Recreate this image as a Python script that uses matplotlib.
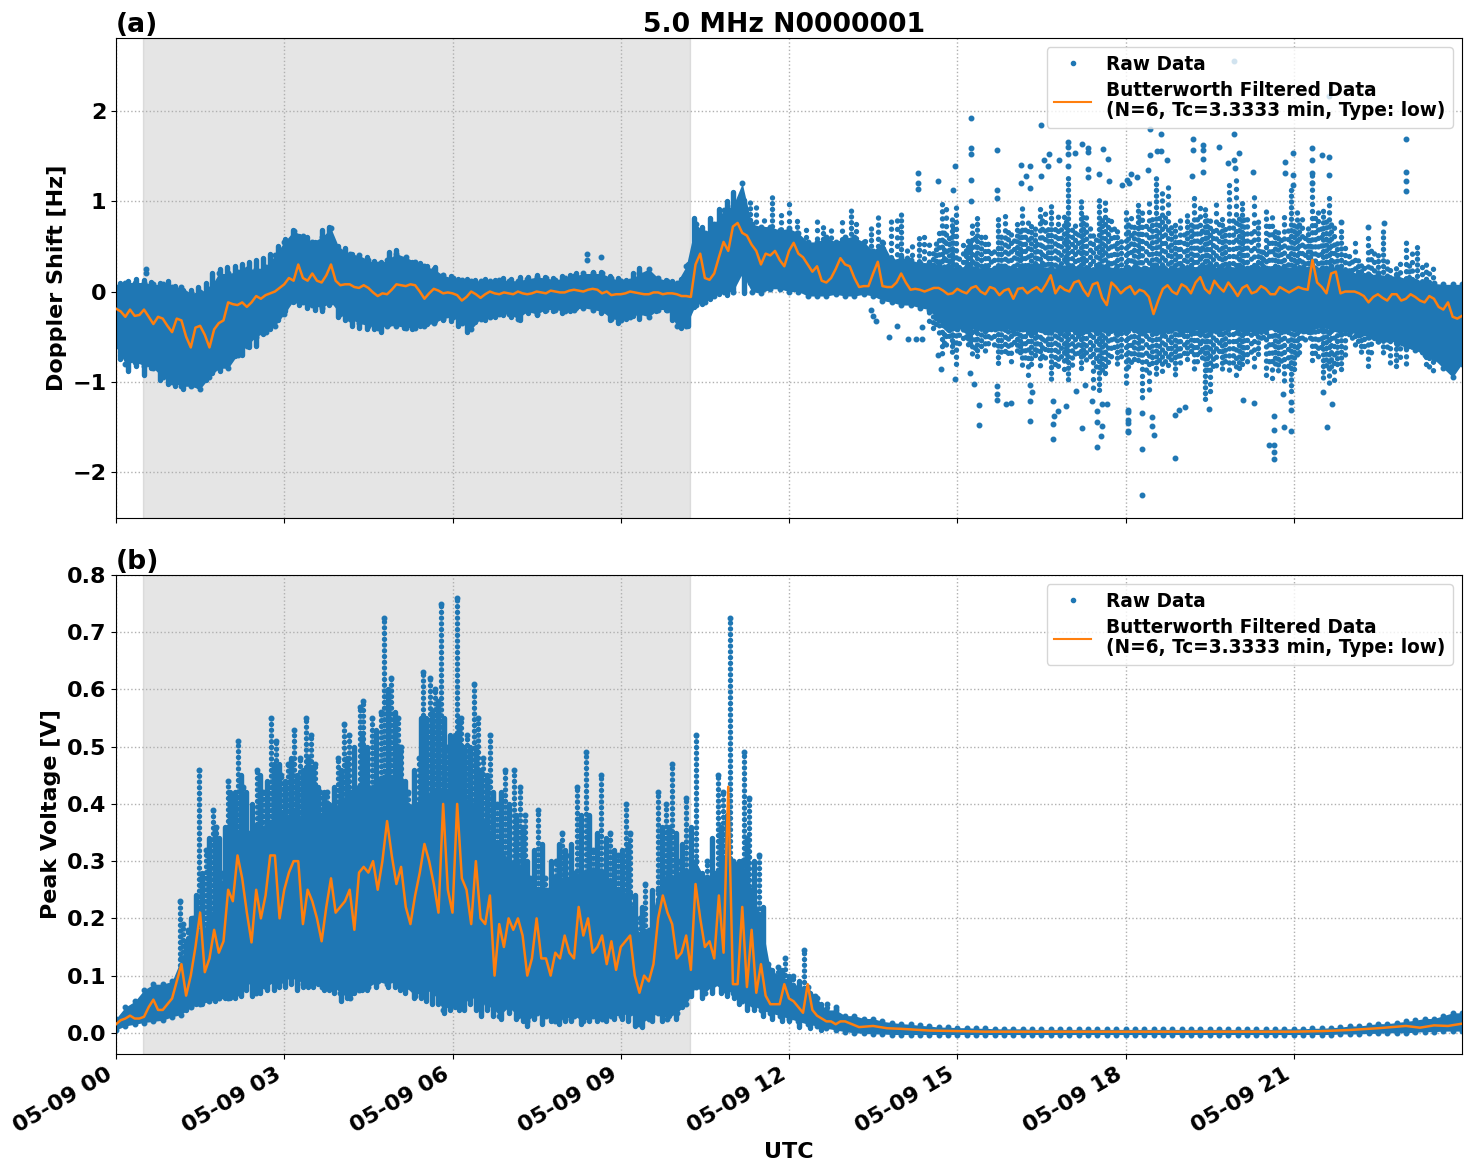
import datetime as dt
import numpy as np
import matplotlib
matplotlib.use("Agg")
import matplotlib.pyplot as plt
import matplotlib.dates as mdates

# ---- Doppler shift: envelope of dense raw data on a 10-minute grid
top_hi = [.05,.10,.10,.10,.08,.08,
          .05,.05,-.02,.0,.03,.2,
          .2,.22,.25,.25,.27,.4,
          .55,.67,.62,.55,.6,.7,
          .45,.42,.4,.35,.3,.35,
          .42,.38,.33,.28,.25,.18,
          .15,.13,.12,.12,.12,.13,
          .12,.12,.14,.16,.15,.13,
          .15,.17,.2,.2,.2,.15,
          .12,.12,.2,.25,.15,.12,
          .1,.28,.75,.65,.75,.9,
          .95,1.2,.75,.72,.72,.68,
          .7,.65,.55,.55,.6,.55,
          .6,.6,.55,.45,.55,.35,
          .38,.35,.32,.32,.3,.28,
          .27,.28,.26,.27,.26,.28,
          .27,.26,.28,.28,.26,.27,
          .28,.27,.26,.28,.28,.26,
          .27,.28,.26,.29,.27,.26,
          .28,.26,.27,.29,.26,.28,
          .27,.26,.28,.26,.27,.28,
          .26,.27,.29,.26,.28,.26,
          .22,.2,.18,.2,.16,.18,
          .14,.12,.1,.09,.08,.08,
          .08]
top_lo = [-.6,-.8,-.78,-.82,-.85,-.95,
          -1.0,-1.05,-1.05,-1.08,-.95,-.85,
          -.85,-.7,-.6,-.5,-.45,-.38,
          -.25,-.1,-.12,-.15,-.18,-.12,
          -.25,-.3,-.35,-.38,-.4,-.38,
          -.38,-.4,-.4,-.38,-.35,-.3,
          -.28,-.35,-.42,-.3,-.28,-.25,
          -.25,-.3,-.22,-.25,-.2,-.2,
          -.22,-.2,-.18,-.2,-.22,-.3,
          -.32,-.28,-.25,-.28,-.2,-.2,
          -.38,-.38,-.15,-.12,-.05,.0,
          .0,.2,.0,-.02,.03,.03,
          .0,.0,-.05,-.05,-.05,-.03,
          -.05,-.05,-.03,-.05,-.1,-.12,
          -.15,-.15,-.18,-.2,-.32,-.42,
          -.42,-.4,-.42,-.44,-.42,-.4,
          -.44,-.42,-.46,-.42,-.44,-.46,
          -.42,-.46,-.44,-.46,-.42,-.46,
          -.44,-.42,-.46,-.44,-.46,-.42,
          -.46,-.44,-.42,-.46,-.44,-.42,
          -.42,-.44,-.46,-.42,-.4,-.44,
          -.42,-.44,-.42,-.4,-.42,-.44,
          -.45,-.48,-.5,-.55,-.52,-.58,
          -.62,-.65,-.7,-.75,-.85,-.95,
          -.8]
# filtered Doppler at :00,:10,... and at :05,:15,...
top_filt = [-.19,-.28,-.27,-.2,-.36,-.3,
            -.45,-.32,-.62,-.38,-.62,-.35,
            -.12,-.15,-.17,-.05,-.04,.0,
            .08,.12,.15,.2,.1,.3,
            .07,.08,.04,.04,-.05,-.03,
            .08,.06,.07,-.08,.03,-.02,
            -.02,-.1,.0,-.07,.0,-.03,
            -.02,.0,-.03,.0,-.02,.0,
            -.01,.02,.0,.03,-.02,-.04,
            -.03,.0,-.02,-.03,-.01,-.02,
            -.03,-.05,.3,.15,.2,.55,
            .72,.65,.52,.3,.4,.35,
            .45,.42,.3,.28,.1,.25,
            .3,.15,.06,.2,.06,.05,
            .2,.02,.02,.02,.04,-.03,
            .03,-.02,.06,-.03,.03,.01,
            -.08,.04,.02,.0,.18,.06,
            .0,.12,-.05,.1,-.15,.05,
            .03,-.03,.0,-.25,.03,.0,
            .08,-.02,.16,-.02,.05,.1,
            -.05,.07,.0,.03,-.03,.02,
            .02,.03,.35,.05,.2,-.02,
            .0,-.02,-.12,-.03,-.1,-.03,
            -.08,-.06,-.12,-.08,-.2,-.28,
            -.27]
top_filt_mid = [-.22,-.2,-.26,-.28,-.28,-.38,
                -.3,-.5,-.4,-.48,-.42,-.32,
                -.14,-.12,-.12,-.08,-.02,.04,
                .15,.3,.12,.12,.18,.12,
                .08,.05,.07,-.01,-.02,.02,
                .07,.08,.0,-.02,.01,-.01,
                -.04,-.06,-.03,-.03,-.02,-.01,
                -.03,-.02,-.02,-.01,.01,-.01,
                .01,.01,.02,.02,.0,-.03,
                -.02,-.01,-.03,-.01,-.03,-.02,
                -.05,-.06,.42,.13,.38,.45,
                .76,.62,.45,.42,.45,.28,
                .54,.38,.22,.12,.15,.37,
                .28,.05,.06,.33,.05,.1,
                .1,.03,.0,.04,.01,-.02,
                .0,.04,.0,.05,-.04,.03,
                .03,-.02,.05,.08,-.02,.02,
                .1,.02,.08,-.07,.1,-.02,
                .06,.02,-.06,-.1,.07,-.03,
                .05,.1,.03,.12,.0,.03,
                .04,-.02,.06,-.03,.05,-.01,
                .05,.02,.1,-.02,.22,.0,
                .0,-.05,-.06,-.07,-.03,-.1,
                -.03,-.1,-.05,-.17,-.12,-.3]

# edge columns of the dense Doppler band (hour, top, bottom)
edge_t = [.08,.22,.36,.5,.63,.78,.92,1.06,1.2,1.33,
          1.47,1.6,1.72,1.85,1.98,2.12,2.25,2.38,2.5,2.62,
          2.75,2.88,3.02,3.15,3.27,3.4,3.55,3.68,3.8,3.95,
          4.08,4.2,4.33,4.47,4.6,4.73,4.87,5.0,5.13,5.28,
          5.42,5.55,5.68,5.83,5.97,6.1,6.25,6.4,6.58,6.75,
          6.9,7.05,7.2,7.35,7.5,7.65,7.8,7.95,8.1,8.2,
          8.5,8.65,8.8,8.95,9.1,9.22,9.33,9.5,9.62,9.8,
          9.92,10.08,10.2,10.3,10.45,10.6,10.75,10.9,11.0,11.2]
edge_hi = [.1,.12,.14,.13,.11,.1,.12,.06,.02,.02,
           .05,.1,.2,.25,.27,.28,.3,.33,.35,.37,
           .42,.5,.58,.68,.62,.6,.55,.68,.72,.5,
           .48,.42,.38,.38,.34,.33,.44,.46,.36,.33,
           .32,.28,.27,.18,.17,.14,.14,.13,.14,.13,
           .15,.14,.16,.16,.18,.16,.15,.17,.18,.2,
           .22,.22,.17,.15,.13,.2,.26,.16,.14,.13,
           .12,.14,.3,.82,.72,.82,.92,1.0,1.1,1.02]
edge_lo = [-.75,-.88,-.82,-.92,-.85,-.98,-1.02,-1.05,-1.08,-1.0,
           -1.05,-.98,-.9,-.88,-.82,-.72,-.7,-.62,-.6,-.47,
           -.42,-.32,-.22,-.12,-.15,-.18,-.2,-.22,-.15,-.28,
           -.32,-.38,-.4,-.42,-.42,-.45,-.36,-.36,-.4,-.42,
           -.38,-.36,-.33,-.32,-.33,-.38,-.45,-.34,-.32,-.28,
           -.26,-.28,-.32,-.24,-.26,-.22,-.22,-.24,-.22,-.18,
           -.2,-.24,-.32,-.35,-.3,-.27,-.3,-.22,-.22,-.2,
           -.32,-.4,-.38,-.17,-.14,-.08,-.03,-.04,.0,-.02]

# columns of raw Doppler samples (hour, top, bottom)
strip_t = [11.3,11.42,11.55,11.7,11.85,12.0,12.15,12.3,12.5,12.6,12.75,12.95,13.1,13.2,13.35,13.47,13.58,13.68,13.82,13.92,14.0,14.1,14.2,14.32,14.4,
           14.5,14.62,14.72,14.8,14.9,14.97,15.1,15.2,15.27,15.35,15.5,15.6,15.72,15.85,15.95,
           16.07,16.15,16.27,16.38,16.48,16.57,16.68,16.8,16.9,16.98,17.1,17.2,17.3,17.42,17.52,
           17.63,17.75,17.85,18.0,18.1,18.22,18.3,18.42,18.55,18.65,18.75,18.88,18.98,19.1,19.22,
           19.32,19.42,19.5,19.62,19.72,19.85,19.97,20.07,20.17,20.3,20.42,20.5,20.62,20.72,20.83,
           20.95,21.05,21.15,21.25,21.33,21.43,21.53,21.62,21.72,21.85,21.98,22.1,22.2,22.33,22.43,
           22.6,22.72,22.82,23.0,23.1,23.2,23.35,23.48]
strip_hi = [1.02,.95,.85,1.05,.85,1.0,.82,.72,.82,.75,.72,.85,.92,.75,.6,.75,.87,.55,.82,.85,.9,.5,.55,.65,.65,
            .6,.55,1.0,.95,.8,.98,.55,.6,.75,.85,.65,.5,.8,.9,.65,
            .75,.95,.85,.7,.95,.9,1.0,.85,.9,1.3,.75,1.05,.85,.7,1.05,
            1.0,.8,.7,.95,.9,1.0,.95,1.05,1.3,1.1,1.2,.75,.85,.9,1.05,
            .95,.95,.85,1.0,.85,1.2,1.3,1.0,.85,1.1,.5,.9,.85,.7,.85,
            1.15,.9,.85,.75,1.3,.9,.95,1.05,.75,.72,.4,.55,.35,.65,.5,
            .72,.3,.3,.55,.5,.55,.35,.3]
strip_lo = [.1,.1,.1,.1,.1,.1,.1,.1,.1,.1,.1,.1,.1,.1,.1,.1,.1,.1,.1,.1,.1,.1,.1,.1,.1,
            -.35,-.4,-.72,-.6,-.7,-.82,-.6,-.62,-.7,-.72,-.7,-.55,-.85,-.7,-.8,
            -.7,-.85,-.95,-.75,-.85,-.75,-1.0,-.85,-.95,-1.0,-.7,-.85,-.8,-1.1,-1.15,
            -.95,-.75,-.85,-1.05,-.8,-.8,-1.2,-1.1,-.95,-.9,-.9,-.95,-.8,-.75,-.9,
            -.7,-1.25,-1.15,-.85,-.9,-.9,-.95,-.85,-.8,-.85,-.55,-.95,-1.05,-.9,-1.0,
            -1.1,-.75,-.55,-.5,-.8,-.75,-1.0,-1.05,-1.0,-.9,-.5,-.6,-.7,-.85,-.6,
            -.7,-.8,-.82,-.85,-.65,-.65,-.85,-.9]
strip2_t = [14.56,14.68,14.76,14.85,14.93,15.03,15.15,15.23,15.31,15.42,15.55,15.66,15.78,15.9,16.01,16.11,
            16.21,16.32,16.43,16.52,16.62,16.74,16.85,16.94,17.04,17.15,17.25,17.36,17.47,17.58,17.69,17.8,
            17.92,18.05,18.16,18.26,18.36,18.48,18.6,18.7,18.81,18.93,19.04,19.16,19.27,19.37,19.46,19.56,
            19.67,19.78,19.91,20.02,20.12,20.23,20.36,20.46,20.56,20.67,20.78,20.89,21.0,21.1,21.2,21.29,
            21.38,21.48,21.57,21.67,21.78,21.91,22.04,22.15,22.26,22.38,22.5,22.66,22.9,23.05,23.28,23.42]
strip2_hi = [.45,.65,.7,.6,.72,.45,.5,.55,.6,.62,.55,.45,.65,.7,.6,.7,
             .7,.75,.6,.8,.7,.75,.7,.8,.7,.65,.85,.75,.6,.8,.85,.7,
             .6,.75,.75,.8,.8,.85,.85,.9,.75,.6,.7,.75,.85,.75,.8,.7,
             .8,.7,.85,.85,.8,.7,.8,.45,.75,.7,.6,.7,.75,.75,.65,.6,
             .85,.75,.8,.75,.55,.5,.35,.4,.3,.5,.4,.35,.35,.3,.3,.25]
strip2_lo = [-.4,-.5,-.6,-.55,-.6,-.6,-.55,-.6,-.65,-.65,-.6,-.6,-.7,-.7,-.65,-.7,
             -.75,-.8,-.7,-.75,-.7,-.85,-.75,-.8,-.85,-.7,-.75,-.75,-.85,-.9,-.8,-.7,
             -.75,-.85,-.75,-.75,-.9,-.85,-.8,-.8,-.8,-.75,-.7,-.7,-.8,-.75,-.9,-.85,
             -.75,-.8,-.8,-.85,-.75,-.7,-.75,-.55,-.8,-.85,-.8,-.85,-.9,-.7,-.55,-.55,
             -.7,-.7,-.85,-.85,-.8,-.75,-.55,-.6,-.65,-.7,-.6,-.65,-.75,-.65,-.7,-.85]

# isolated Doppler samples
dot_t = [.53,.53,8.4,8.4,8.65,15.25,15.25,15.25,15.71,15.25,15.25,14.96,14.3,14.3,14.3,14.66,14.93,15.71,15.71,
         16.5,16.97,16.97,16.97,17.22,17.33,17.33,17.59,17.68,17.1,16.64,16.55,16.62,16.82,16.14,16.3,16.97,
         16.23,16.14,16.3,16.5,17.33,17.33,17.53,17.7,18.02,17.93,
         15.39,15.39,16.3,16.7,17.22,17.5,17.57,17.58,17.5,17.5,18.04,18.04,18.04,16.71,16.72,16.7,16.8,16.94,
         15.96,15.87,15.71,15.71,15.71,14.96,14.71,14.66,15.3,15.23,16.34,16.3,16.3,17.12,17.27,17.41,17.58,17.67,
         19.94,21.62,19.94,18.43,18.64,19.21,23.0,23.0,23.0,23.0,19.21,19.39,19.39,19.39,19.66,18.57,18.64,18.44,18.74,
         20.03,19.93,19.96,19.82,20.84,20.98,21.33,21.33,21.5,21.63,21.33,21.33,20.84,21.63,20.98,20.98,20.28,19.19,
         19.39,18.06,18.2,18.1,18.4,22.32,22.61,21.85,
         18.29,18.88,18.29,20.55,20.64,20.64,20.64,21.6,20.95,20.82,20.65,20.65,18.5,18.47,18.47,18.04,18.04,18.04,
         18.29,18.88,18.95,19.06,19.48,20.1,20.3,20.95,20.95,21.69,21.53,20.8,
         13.47,13.5,13.55,13.93,13.78,14.12,14.27,14.38,14.38]
dot_v = [.25,.2,.42,.35,.38,1.92,1.59,1.52,1.57,1.24,1.0,1.39,1.31,1.2,1.14,1.23,1.12,1.12,1.04,
         1.85,1.66,1.6,1.52,1.63,1.59,1.55,1.58,1.47,1.53,1.52,1.46,1.39,1.46,1.4,1.39,1.39,
         1.28,1.2,1.15,1.28,1.36,1.27,1.3,1.23,1.24,1.18,
         -1.48,-1.26,-1.43,-1.63,-1.51,-1.72,-1.6,-1.49,-1.45,-1.32,-1.42,-1.31,-1.55,-1.47,-1.38,-1.21,-1.32,-1.27,
         -1.24,-1.25,-1.05,-1.14,-1.2,-.97,-.86,-.7,-1.03,-.9,-1.11,-1.04,-1.21,-1.1,-1.04,-1.21,-1.25,-1.25,
         2.56,2.17,1.75,1.8,1.75,1.69,1.69,1.32,1.23,1.11,1.57,1.62,1.57,1.47,1.6,1.56,1.56,1.51,1.46,
         1.53,1.46,1.37,1.42,1.44,1.54,1.59,1.46,1.51,1.49,1.31,1.2,1.31,1.29,1.29,1.18,1.33,1.28,
         1.33,1.2,1.27,1.3,1.35,.72,.76,.77,
         -2.26,-1.85,-1.75,-1.7,-1.7,-1.78,-1.86,-1.5,-1.55,-1.5,-1.54,-1.38,-1.59,-1.39,-1.49,-1.33,-1.46,-1.56,
         -1.35,-1.37,-1.31,-1.28,-1.3,-1.2,-1.24,-1.22,-1.31,-1.25,-1.11,-1.14,
         -.2,-.27,-.33,-.38,-.5,-.53,-.53,-.53,-.39]

# ---- Peak voltage: envelope of dense raw data on a 10-minute grid
bot_hi = [.025,.045,.055,.075,.085,.085,
          .09,.13,.13,.17,.2,.25,
          .3,.35,.35,.36,.36,.38,
          .38,.38,.38,.38,.38,.38,
          .4,.42,.43,.43,.44,.45,
          .44,.4,.4,.42,.42,.42,
          .42,.42,.4,.38,.35,.33,
          .3,.3,.27,.25,.25,.27,
          .27,.28,.28,.28,.28,.26,
          .25,.24,.17,.18,.25,.28,
          .27,.28,.3,.27,.28,.3,
          .3,.3,.25,.2,.11,.1,
          .09,.08,.08,.06,.04,.04,
          .03,.03,.025,.025,.02,.018,
          .016,.015,.013,.012,.01,.01,
          .009,.009,.008,.008,.007,.007,
          .007,.007,.006,.006,.006,.006,
          .006,.006,.006,.006,.006,.006,
          .006,.006,.006,.006,.006,.006,
          .006,.006,.006,.006,.006,.006,
          .006,.006,.006,.006,.006,.007,
          .007,.007,.008,.008,.009,.01,
          .012,.012,.014,.016,.016,.018,
          .02,.022,.025,.025,.03,.035,
          .035]
bot_lo = [.005,.012,.015,.018,.02,.022,
          .028,.032,.045,.05,.055,.06,
          .06,.07,.09,.07,.08,.09,
          .09,.1,.085,.09,.08,.085,
          .07,.06,.075,.08,.09,.085,
          .09,.08,.065,.075,.07,.04,
          .05,.045,.065,.05,.05,.03,
          .045,.03,.02,.035,.03,.02,
          .025,.03,.02,.03,.025,.03,
          .03,.035,.015,.025,.035,.025,
          .035,.05,.08,.07,.085,.075,
          .07,.055,.05,.04,.035,.03,
          .025,.02,.015,.012,.008,.005,
          .002,.0,-.001,-.002,-.002,-.003,
          -.003,-.003,-.003,-.003,-.003,-.003,
          -.003,-.003,-.003,-.003,-.003,-.003,
          -.003,-.003,-.003,-.003,-.003,-.003,
          -.003,-.003,-.003,-.003,-.003,-.003,
          -.003,-.003,-.003,-.003,-.003,-.003,
          -.003,-.003,-.003,-.003,-.003,-.003,
          -.003,-.003,-.003,-.003,-.003,-.003,
          -.003,-.003,-.003,-.003,-.003,-.002,
          -.002,-.002,-.001,-.001,.0,.0,
          .0,.001,.002,.002,.003,.003,
          .003]
bot_spike_t = [1.14,1.2,1.29,1.38,1.48,1.6,1.73,1.79,1.88,2.0,2.09,2.18,2.27,2.36,2.51,2.63,2.76,2.86,2.95,
               3.07,3.18,3.28,3.39,3.47,3.55,3.64,3.76,3.82,3.96,4.07,4.16,4.35,4.41,4.56,4.72,4.78,4.91,
               5.03,5.09,5.21,5.41,5.47,5.6,5.68,5.8,5.9,6.0,6.08,6.16,6.25,6.38,6.46,6.55,6.67,6.8,6.94,
               7.09,7.2,7.29,7.38,7.53,7.65,7.85,7.96,8.03,8.22,8.38,8.51,8.65,8.81,8.95,9.09,9.17,9.34,
               9.43,9.67,9.8,9.92,10.05,10.16,10.35,10.53,10.74,10.83,10.95,11.2,11.29,11.46,11.62,11.81,
               11.93,12.08,12.27,12.47,12.67,12.84]
bot_spike_hi = [.23,.19,.18,.2,.46,.32,.39,.36,.28,.44,.38,.51,.43,.35,.46,.42,.55,.51,.45,
                .47,.53,.48,.55,.52,.47,.42,.42,.38,.48,.54,.52,.57,.58,.55,.56,.725,.62,
                .55,.5,.42,.48,.63,.62,.6,.75,.5,.5,.76,.55,.52,.61,.55,.48,.52,.4,.46,
                .46,.43,.38,.27,.39,.27,.3,.35,.31,.43,.49,.32,.45,.35,.31,.4,.35,.2,
                .26,.42,.4,.47,.3,.41,.52,.3,.45,.42,.725,.49,.41,.31,.12,.115,
                .13,.1,.145,.065,.05,.045]
# shorter columns that roughen the edges of the dense voltage band
bot2_t = [1.25,1.33,1.43,1.54,1.66,1.76,1.84,1.94,2.04,2.13,
          2.22,2.31,2.43,2.57,2.7,2.81,2.9,3.01,3.12,3.23,
          3.33,3.43,3.51,3.6,3.7,3.79,3.89,4.01,4.11,4.25,
          4.38,4.48,4.64,4.85,4.97,5.06,5.15,5.31,5.44,5.53,
          5.64,5.74,5.85,5.95,6.04,6.12,6.2,6.31,6.42,6.5,
          6.61,6.73,6.87,7.01,7.14,7.25,7.33,7.45,7.59,7.75,
          7.9,8.0,8.12,8.3,8.44,8.58,8.73,8.88,9.02,9.13,
          9.25,9.38,9.55,9.73,9.86,9.98,10.1,10.25,10.44,10.63,
          10.78,10.89,11.02,11.1,11.25,11.37,11.54,11.7,11.87,12.0,
          12.17,12.37,12.57]
bot2_hi = [.16,.2,.24,.28,.34,.36,.34,.36,.42,.42,
           .45,.42,.4,.45,.44,.47,.47,.44,.48,.45,
           .46,.48,.46,.43,.42,.4,.43,.46,.48,.5,
           .52,.5,.53,.6,.56,.5,.44,.46,.55,.55,
           .56,.58,.55,.52,.52,.55,.5,.5,.5,.46,
           .45,.42,.42,.4,.38,.36,.3,.32,.33,.3,
           .33,.32,.33,.38,.38,.35,.34,.32,.32,.33,
           .24,.22,.25,.36,.36,.35,.33,.36,.28,.34,
           .36,.38,.28,.3,.34,.3,.22,.11,.11,.1,
           .09,.07,.05]
bot2_lo = [.04,.045,.05,.05,.055,.055,.06,.06,.06,.06,
           .065,.075,.065,.07,.075,.075,.08,.08,.085,.075,
           .08,.08,.08,.085,.075,.075,.07,.055,.06,.07,
           .075,.075,.08,.08,.08,.075,.07,.06,.06,.055,
           .05,.05,.035,.04,.045,.04,.04,.05,.04,.03,
           .04,.03,.025,.035,.025,.02,.012,.025,.015,.02,
           .015,.02,.02,.015,.02,.02,.02,.025,.025,.02,
           .012,.01,.02,.02,.03,.025,.045,.065,.06,.07,
           .07,.065,.06,.05,.04,.04,.03,.025,.02,.02,
           .01,.008,.005]

# filtered peak voltage, 5-minute grid to 13:00 then a sparse tail
bot_filt = [.015,.022,.025,.03,.025,.025,.028,.045,.058,.04,.04,.05,
            .06,.09,.12,.065,.1,.15,.21,.106,.13,.18,.14,.16,
            .25,.23,.31,.27,.21,.158,.25,.2,.24,.31,.31,.2,
            .25,.28,.3,.3,.19,.25,.23,.2,.16,.22,.27,.21,
            .22,.23,.25,.18,.28,.29,.28,.3,.25,.3,.37,.31,
            .26,.29,.22,.19,.24,.28,.33,.3,.26,.21,.4,.25,
            .21,.4,.27,.25,.19,.3,.2,.19,.24,.1,.19,.15,
            .2,.18,.2,.17,.1,.13,.2,.13,.13,.1,.14,.13,
            .17,.14,.13,.22,.17,.2,.14,.15,.17,.12,.16,.11,
            .15,.16,.17,.1,.07,.1,.09,.12,.2,.24,.21,.19,
            .13,.14,.17,.11,.26,.2,.15,.16,.13,.24,.14,.43,
            .085,.085,.22,.08,.18,.07,.12,.065,.05,.05,.05,.085,
            .06,.055,.045,.035,.085,.04,.03,.025,.02,.02,.015,.02,
            .02]
bot_tail_t = [13.25,13.5,13.75,14,14.5,15,15.5,16,17,18,19,20,21,21.5,22,22.5,23,23.25,23.5,23.75,24]
bot_tail = [.01,.012,.008,.007,.004,.003,.002,.002,.002,.002,.002,.002,.002,.003,.005,.008,.012,.009,.013,.012,.016]

span_hours = (0.48, 10.23)
xtick_hours = [0, 3, 6, 9, 12, 15, 18, 21]
top_yticks = [-2, -1, 0, 1, 2]
bot_yticks = [0, .1, .2, .3, .4, .5, .6, .7, .8]

base = mdates.date2num(dt.datetime(2024, 5, 9))
def d(h):
    return base + np.asarray(h, dtype=float) / 24.0

BLUE, ORANGE = "#1f77b4", "#ff7f0e"
# dotted columns: a cycle of offsets and gaps keeps neighbouring columns from lining up
DOT_STYLES = [((k * 0.47) % 1.3, (0.01, 1.05 + 0.25 * (k % 3))) for k in range(17)]
MS = 6.5
LW = 3.9
W, H = 1472, 1172
plt.rcParams["font.family"] = "DejaVu Sans"
plt.rcParams["font.weight"] = "bold"
plt.rcParams["axes.labelweight"] = "bold"
plt.rcParams["axes.titleweight"] = "bold"

fig = plt.figure(figsize=(W / 100, H / 100), dpi=100)
ax1 = fig.add_axes([116 / W, 1 - 518 / H, 1346 / W, 480 / H])
ax2 = fig.add_axes([116 / W, 1 - 1054 / H, 1346 / W, 479 / H])

def raw(ax, hi, lo):
    t = np.arange(len(hi)) / 6.0
    ax.fill_between(d(t), lo, hi, color=BLUE, lw=0, zorder=2)
    ax.plot(d(t), hi, ".", color=BLUE, ms=MS, zorder=2)
    ax.plot(d(t), lo, ".", color=BLUE, ms=MS, zorder=2)

raw(ax1, top_hi, top_lo)
ax1.vlines(d(edge_t), edge_lo, edge_hi, color=BLUE, lw=LW, capstyle="round", zorder=2)
ax1.vlines(d(strip_t), strip_lo, strip_hi, color=BLUE, lw=LW, linestyles=DOT_STYLES, capstyle="round", zorder=2)
ax1.vlines(d(strip2_t), strip2_lo, strip2_hi, color=BLUE, lw=LW, linestyles=DOT_STYLES, capstyle="round", zorder=2)
ax1.plot(d(dot_t), dot_v, ".", color=BLUE, ms=MS, zorder=2, label="Raw Data")
ft = np.concatenate([np.arange(len(top_filt)) / 6.0, (np.arange(len(top_filt_mid)) + 0.5) / 6.0])
fv = np.concatenate([top_filt, top_filt_mid])
order = np.argsort(ft)
ax1.plot(d(ft[order]), fv[order], color=ORANGE, lw=1.8, zorder=3,
         label="Butterworth Filtered Data\n(N=6, Tc=3.3333 min, Type: low)")

raw(ax2, bot_hi, bot_lo)
ax2.vlines(d(bot2_t), bot2_lo, bot2_hi, color=BLUE, lw=LW, capstyle="round", zorder=2)
grid_t = np.arange(len(bot_hi)) / 6.0
spike_base = np.interp(bot_spike_t, grid_t, (np.array(bot_hi) + np.array(bot_lo)) / 2)
ax2.vlines(d(bot_spike_t), spike_base, bot_spike_hi, color=BLUE, lw=LW, linestyles=[(0, (0.01, 1.05))],
           capstyle="round", zorder=2)
ax2.plot(d(bot_spike_t), bot_spike_hi, ".", color=BLUE, ms=MS, zorder=2, label="Raw Data")
filt_t = np.concatenate([np.arange(len(bot_filt)) / 12.0, bot_tail_t])
ax2.plot(d(filt_t), list(bot_filt) + list(bot_tail), color=ORANGE, lw=1.8, zorder=3,
         label="Butterworth Filtered Data\n(N=6, Tc=3.3333 min, Type: low)")

for ax in (ax1, ax2):
    ax.axvspan(d(span_hours[0]), d(span_hours[1]), color="gray", alpha=0.2, zorder=0)
    ax.set_axisbelow(True)
    ax.grid(True, ls=":", color="#b0b0b0", lw=1.0)
    ax.set_xlim(d(0), d(24))
    ax.set_xticks(d(xtick_hours))
    ax.xaxis.set_major_formatter(mdates.DateFormatter("%m-%d %H"))
    ax.tick_params(labelsize=16)
    leg = ax.legend(loc="upper right", fontsize=13.33, framealpha=0.8, labelspacing=0.38)
    for txt in leg.get_texts():
        txt.set_linespacing(1.12)
    for h in leg.get_lines():
        if h.get_linestyle() == "-":
            h.set_linewidth(1.5)
        else:
            h.set_markersize(6)

ax1.set_ylim(-2.51, 2.81)
ax1.set_yticks(top_yticks)
ax1.tick_params(axis="x", labelbottom=False)
ax1.set_ylabel("Doppler Shift [Hz]", fontsize=16)
ax1.set_title("5.0 MHz N0000001", fontsize=19.2, pad=3.5, x=0.4963)
ax1.set_title("(a)", loc="left", fontsize=19.2, pad=3.5)

ax2.set_ylim(-0.037, 0.80)
ax2.set_yticks(bot_yticks)
ax2.set_ylabel("Peak Voltage [V]", fontsize=16)
ax2.set_xlabel("UTC", fontsize=16)
ax2.set_title("(b)", loc="left", fontsize=19.2, pad=3.5)
plt.setp(ax2.get_xticklabels(), rotation=30, ha="right")

fig.savefig("out.png", dpi=100)
